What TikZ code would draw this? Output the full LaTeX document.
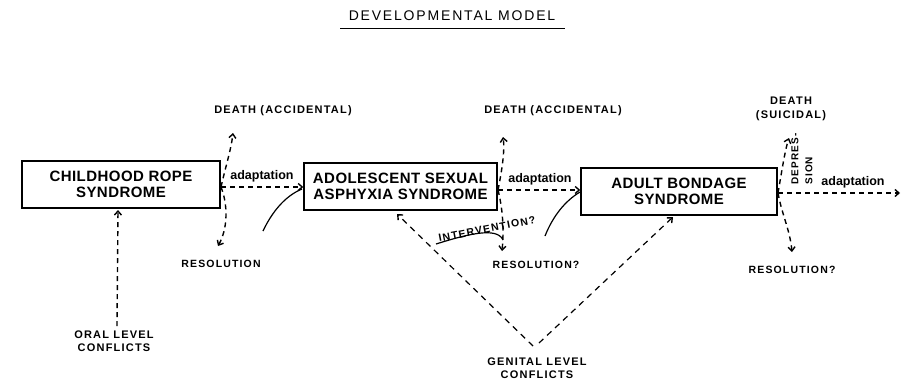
\documentclass[tikz,border=0pt]{standalone}
\usepackage{fontspec}
\setmainfont{Liberation Sans}
\newfontfamily\lsans[LetterSpace=11]{Liberation Sans}
\newfontfamily\bsans[LetterSpace=3]{Liberation Sans}
\newfontfamily\tsans[LetterSpace=13]{Liberation Sans}
\usetikzlibrary{arrows.meta}
\begin{document}
\begin{tikzpicture}[x=1pt,y=-1pt,
  boxnode/.style={draw, line width=1.5pt, align=center, inner sep=0pt,
    minimum height=47pt, font=\bsans\bfseries\fontsize{15}{16}\selectfont},
  lab/.style={align=center, inner sep=0pt, font=\lsans\bfseries\fontsize{11}{13.5}\selectfont},
  reslab/.style={align=center, inner sep=0pt, font=\lsans\bfseries\fontsize{10.5}{13}\selectfont},
  adapt/.style={inner sep=0pt, font=\bfseries\fontsize{12.5}{14}\selectfont},
  dasharrow/.style={line width=1.4pt, dash pattern=on 5pt off 4pt,
    -{Straight Barb[length=4pt,width=7pt,line width=1.4pt]}},
  vdash/.style={line width=1.2pt, dash pattern=on 6pt off 5pt,
    -{Straight Barb[length=4pt,width=7pt,line width=1.4pt]}},
  plainline/.style={line width=1.2pt}]
\useasboundingbox (0,0) rectangle (907,384);

% title
\node[inner sep=0pt, font=\tsans\fontsize{14}{16}\selectfont] (title) at (452,16) {DEVELOPMENTAL MODEL};
\coordinate (ul1) at (340,28);
\coordinate (ul2) at (565,28);
\draw[line width=0.8pt] (ul1) -- (ul2);

% boxes
\node[boxnode, minimum width=198pt] (b1) at (121,184.5) {CHILDHOOD ROPE\\SYNDROME};
\node[boxnode, minimum width=193pt] (b2) at (400.5,186.5) {ADOLESCENT SEXUAL\\ASPHYXIA SYNDROME};
\node[boxnode, minimum width=196pt] (b3) at (679,191.5) {ADULT BONDAGE\\SYNDROME};

% labels
\node[lab] (d1) at (283,111) {DEATH (ACCIDENTAL)};
\node[lab] (d2) at (553,111) {DEATH (ACCIDENTAL)};
\node[lab] (d3) at (791,109) {DEATH\\(SUICIDAL)};
\node[reslab] (r1) at (221,264) {RESOLUTION};
\node[reslab] (r2) at (536,265) {RESOLUTION?};
\node[reslab] (r3) at (792,270) {RESOLUTION?};
\node[adapt] (a1) at (262,176) {adaptation};
\node[adapt] (a2) at (540,179) {adaptation};
\node[adapt] (a3) at (853,182) {adaptation};
\node[lab] (oral) at (114,341) {ORAL LEVEL\\CONFLICTS};
\node[lab] (gen) at (537,368) {GENITAL LEVEL\\CONFLICTS};
\node[reslab, rotate=11] (interv) at (487,229) {INTERVENTION?};
\node[rotate=90, align=left, inner sep=0pt, font=\lsans\bfseries\fontsize{10}{14}\selectfont] (depr) at (802,159) {DEPRES-\\SION};

% junctions and arrow tips
\coordinate (j1) at (221,187);
\coordinate (t1u) at (233,133);
\coordinate (t1d) at (218,246);
\coordinate (j2) at (498,190);
\coordinate (t2u) at (503,137);
\coordinate (t2d) at (502,251);
\coordinate (j3) at (778,193);
\coordinate (t3u) at (789,138);
\coordinate (t3d) at (792,252);
\coordinate (t3r) at (900,193);
\coordinate (o1) at (117,326);
\coordinate (o2) at (118,210);
\coordinate (g0) at (533,346);
\coordinate (g1) at (539,343);
\coordinate (g2) at (397,214);
\coordinate (g3) at (673,217);
\coordinate (iv1) at (436,244);
\coordinate (iv2) at (503,240);
\coordinate (s1a) at (263,231);
\coordinate (s1b) at (302,189);
\coordinate (s2a) at (545,236);
\coordinate (s2b) at (580,192);

% stage 1 branches
\draw[dasharrow] (j1) .. controls (226,165) and (231,150) .. (t1u);
\draw[dasharrow] (j1) .. controls (228,205) and (228,228) .. (t1d);
\draw[dasharrow] (j1) -- (j1 -| b2.west);

% stage 2 branches
\draw[dasharrow] (j2) .. controls (502,170) and (505,150) .. (t2u);
\draw[dasharrow] (j2) .. controls (503,210) and (504,230) .. (t2d);
\draw[dasharrow] (j2) -- (j2 -| b3.west);

% stage 3 branches
\draw[dasharrow] (j3) .. controls (782,170) and (785,150) .. (t3u);
\draw[dasharrow] (j3) .. controls (782,215) and (790,230) .. (t3d);
\draw[dasharrow] (j3) -- (t3r);

% conflicts
\draw[dasharrow] (o1) -- (o2);
\draw[vdash] (g0) -- (g2);
\draw[vdash] (g1) -- (g3);

% solid curves
\draw[plainline] (s1a) .. controls (272,212) and (285,196) .. (s1b);
\draw[plainline] (s2a) .. controls (553,216) and (565,201) .. (s2b);
\draw[plainline] (iv1) .. controls (465,235) and (497,226) .. (iv2);
\end{tikzpicture}
\end{document}
